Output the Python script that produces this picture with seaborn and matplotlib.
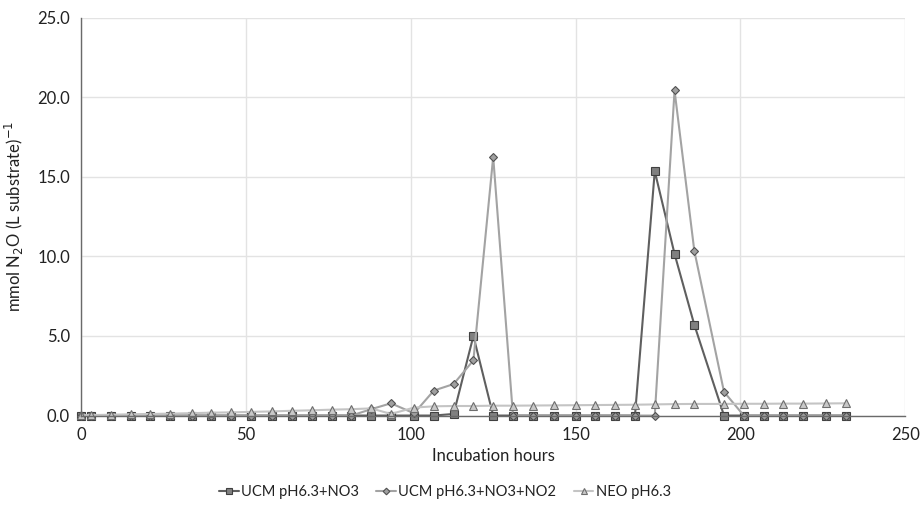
import numpy as np
import pandas as pd
import matplotlib
matplotlib.use("Agg")
import matplotlib.pyplot as plt
import seaborn as sns

# incubation time points (hours)
hours = [0, 3, 9, 15, 21, 27, 33.5, 39.5, 45.5, 51.5, 58, 64, 70, 76, 82, 88, 94,
         101, 107, 113, 119, 125, 131, 137, 143.5, 150, 156, 162, 168, 174, 180, 186,
         195, 201, 207, 213, 219, 226, 232]

ucm_no3 = [0, 0, 0, 0, 0, 0, 0, 0, 0, 0, 0, 0, 0, 0, 0, 0, 0,
           0, 0, 0.1, 5.0, 0, 0, 0, 0, 0, 0, 0, 0, 15.36, 10.16, 5.7,
           0, 0, 0, 0, 0, 0, 0]

ucm_no3_no2 = [0, 0, 0, 0, 0, 0, 0, 0, 0, 0, 0, 0, 0, 0, 0, 0.4, 0.77,
               0.14, 1.57, 1.98, 3.47, 16.26, 0, 0, 0, 0, 0, 0, 0, 0, 20.43, 10.35,
               1.49, 0, 0, 0, 0, 0, 0]

neo = [0.02, 0.03, 0.05, 0.08, 0.1, 0.12, 0.15, 0.18, 0.2, 0.23, 0.26, 0.3, 0.33, 0.37, 0.4, 0.45, 0.1,
       0.5, 0.58, 0.6, 0.6, 0.62, 0.62, 0.63, 0.64, 0.65, 0.66, 0.67, 0.68, 0.7, 0.72, 0.73,
       0.73, 0.74, 0.74, 0.75, 0.75, 0.76, 0.77]

labels = ["UCM pH6.3+NO3", "UCM pH6.3+NO3+NO2", "NEO pH6.3"]

sns.set_style("white")
plt.rcParams['font.family'] = ['Lato', 'DejaVu Sans']

fig = plt.figure(figsize=(9.21, 5.08), dpi=100)
ax = fig.add_axes([0.088, 0.182, 0.895, 0.783])

styles = [
    dict(marker='s', color='#5f5f5f', markerfacecolor='#808080', markeredgecolor='#404040', markersize=6.3),
    dict(marker='D', color='#a3a3a3', markerfacecolor='#a0a0a0', markeredgecolor='#505050', markersize=4.5),
    dict(marker='^', color='#c4c4c4', markerfacecolor='#c8c8c8', markeredgecolor='#6e6e6e', markersize=6.3),
]
for vals, lab, st in zip([ucm_no3, ucm_no3_no2, neo], labels, styles):
    sns.lineplot(x=hours, y=vals, ax=ax, label=lab, linewidth=1.5,
                 markeredgewidth=0.8, sort=False, clip_on=False, **st)

ax.set_xlim(0, 250)
ax.set_ylim(0, 25)
ax.set_xticks(np.arange(0, 251, 50))
ax.set_yticks(np.arange(0, 25.1, 5))
ax.set_yticklabels([f"{v:.1f}" for v in np.arange(0, 25.1, 5)])
ax.grid(True, color='#e3e3e3', linewidth=1)
ax.set_axisbelow(True)

for s in ['top', 'right']:
    ax.spines[s].set_visible(False)
for s in ['left', 'bottom']:
    ax.spines[s].set_color('#6a6a6a')
    ax.spines[s].set_linewidth(1)
ax.tick_params(axis='both', direction='out', length=4, color='#6a6a6a',
               labelsize=12, labelcolor='#222222', pad=4)

ax.set_xlabel("Incubation hours", fontsize=12, color='#222222', labelpad=4)
ax.set_ylabel("mmol N$_2$O (L substrate)$^{-1}$", fontsize=12, color='#222222', labelpad=8)

ax.get_legend().remove()
h, l = ax.get_legend_handles_labels()
fig.legend(h, l, loc='center', bbox_to_anchor=(0.483, 0.032), ncol=3, frameon=False,
           fontsize=10.5, handlelength=1.35, columnspacing=1.2, handletextpad=0.15,
           markerscale=0.75, labelcolor='#222222')

fig.savefig("out.png", dpi=100)
